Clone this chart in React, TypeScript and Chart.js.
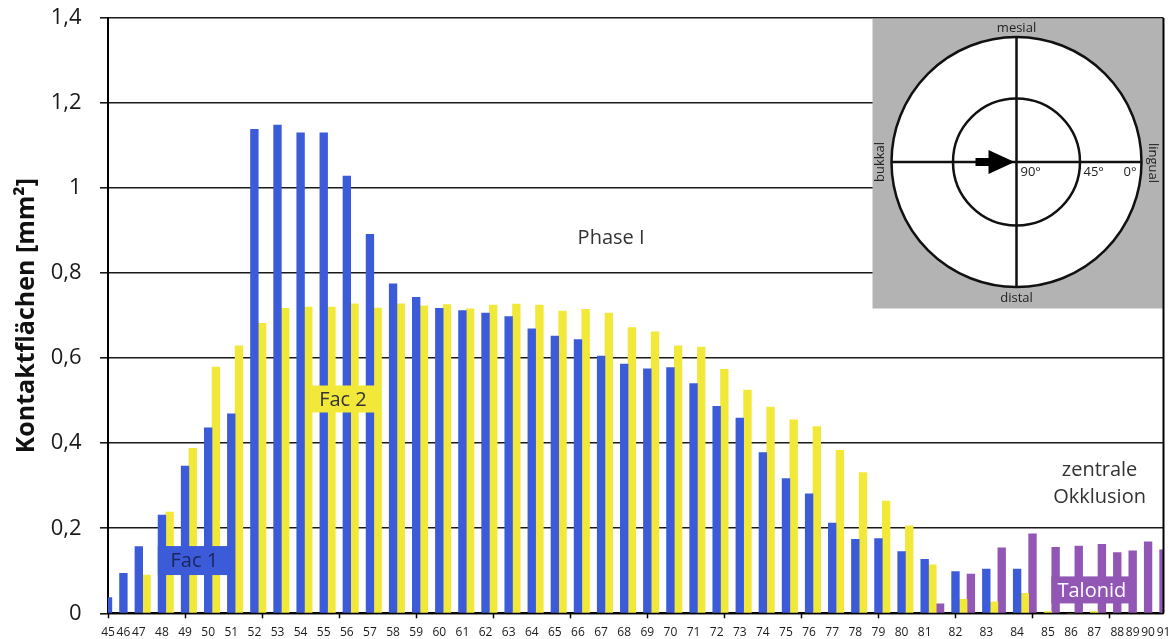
import React, { useEffect, useRef } from 'react';
import { Chart, registerables } from 'chart.js';

Chart.register(...registerables);

// Frame numbers along the x axis
const frames = [
  45, 46, 47, 48, 49, 50, 51, 52, 53, 54, 55, 56, 57, 58, 59, 60, 61, 62, 63, 64, 65, 66, 67, 68,
  69, 70, 71, 72, 73, 74, 75, 76, 77, 78, 79, 80, 81, 82, 83, 84, 85, 86, 87, 88, 89, 90, 91,
];

// Contact areas in mm² per facet (null = facet not in contact)
const fac1: (number | null)[] = [
  0.037, 0.094, 0.157, 0.231, 0.346, 0.436, 0.469, 1.138, 1.148, 1.13, 1.13, 1.028, 0.891, 0.775,
  0.743, 0.717, 0.712, 0.706, 0.698, 0.669, 0.652, 0.644, 0.605, 0.586, 0.575, 0.578, 0.54, 0.487,
  0.459, 0.378, 0.317, 0.281, 0.212, 0.174, 0.176, 0.145, 0.127, 0.098, 0.104, 0.104,
  null, null, null, null, null, null, null,
];

const fac2: (number | null)[] = [
  null, null, 0.09, 0.238, 0.388, 0.579, 0.629, 0.682, 0.717, 0.72, 0.72, 0.728, 0.718, 0.728,
  0.723, 0.726, 0.716, 0.725, 0.727, 0.725, 0.711, 0.715, 0.706, 0.672, 0.662, 0.629, 0.626, 0.574,
  0.525, 0.485, 0.455, 0.439, 0.383, 0.331, 0.264, 0.206, 0.114, 0.033, 0.027, 0.047, 0.004, 0,
  0.004, null, null, null, null,
];

const talonid: (number | null)[] = [
  null, null, null, null, null, null, null, null, null, null, null, null, null, null, null, null,
  null, null, null, null, null, null, null, null, null, null, null, null, null, null, null, null,
  null, null, null, null, 0.022, 0.092, 0.154, 0.187, 0.155, 0.158, 0.162, 0.143, 0.147, 0.168,
  0.149,
];

const yTickValues = [0, 0.2, 0.4, 0.6, 0.8, 1.0, 1.2, 1.4];

const BLUE = '#3b5bd9';
const YELLOW = '#f2e83a';
const PURPLE = '#9256b4';
const FONT = "'Open Sans', 'DejaVu Sans', sans-serif";

// Every bar gets its own slot; frames are separated by one empty slot.
function buildSlots() {
  const labels: string[] = [];
  const s1: (number | null)[] = [];
  const s2: (number | null)[] = [];
  const s3: (number | null)[] = [];
  frames.forEach((f, i) => {
    if (i > 0) {
      labels.push('');
      s1.push(null);
      s2.push(null);
      s3.push(null);
    }
    const vals = [fac1[i], fac2[i], talonid[i]];
    let first = true;
    vals.forEach((v, k) => {
      if (v === null) return;
      labels.push(first ? String(f) : '');
      first = false;
      s1.push(k === 0 ? v : null);
      s2.push(k === 1 ? v : null);
      s3.push(k === 2 ? v : null);
    });
  });
  return { labels, s1, s2, s3 };
}

const fmtTick = (v: number) => String(Math.round(v * 10) / 10).replace('.', ',');

// Labels inside the plot, anchored in slot / value units
const notes = [
  { text: 'Fac 1', slot: 11.2, value: 0.124, bg: BLUE, color: '#1b2560', w: 73, h: 29 },
  { text: 'Fac 2', slot: 30.5, value: 0.504, bg: YELLOW, color: '#333333', w: 70, h: 27 },
  { text: 'Talonid', slot: 127.7, value: 0.055, bg: PURPLE, color: '#ffffff', w: 81, h: 27 },
  { text: 'Phase I', slot: 65.3, value: 0.885, bg: null, color: '#333333', w: 0, h: 0 },
  { text: 'zentrale', slot: 128.7, value: 0.339, bg: null, color: '#333333', w: 0, h: 0 },
  { text: 'Okklusion', slot: 128.7, value: 0.274, bg: null, color: '#333333', w: 0, h: 0 },
];

const notesPlugin = {
  id: 'notes',
  afterDatasetsDraw(chart: any) {
    const { ctx, scales } = chart;
    ctx.save();
    ctx.font = `20px ${FONT}`;
    ctx.textAlign = 'center';
    ctx.textBaseline = 'middle';
    notes.forEach((n) => {
      const x = scales.x.getPixelForValue(n.slot);
      const y = scales.y.getPixelForValue(n.value);
      if (n.bg) {
        ctx.fillStyle = n.bg;
        ctx.fillRect(x - n.w / 2, y - n.h / 2, n.w, n.h);
      }
      ctx.fillStyle = n.color;
      ctx.fillText(n.text, x, y + 1);
    });
    ctx.restore();
  },
  afterDraw(chart: any) {
    const { ctx, chartArea: ca } = chart;
    ctx.save();
    // orientation diagram
    const size = 291;
    const bx = ca.right - size;
    const by = ca.top + 1;
    ctx.fillStyle = '#b3b3b3';
    ctx.fillRect(bx, by, size, size - 1.5);
    const cx = bx + 144;
    const cy = by + 143;
    const R = 125;
    const r = 63.5;
    ctx.fillStyle = '#ffffff';
    ctx.beginPath();
    ctx.arc(cx, cy, R, 0, Math.PI * 2);
    ctx.fill();
    ctx.strokeStyle = '#111';
    ctx.lineWidth = 2.5;
    ctx.stroke();
    ctx.beginPath();
    ctx.arc(cx, cy, r, 0, Math.PI * 2);
    ctx.stroke();
    ctx.beginPath();
    ctx.moveTo(cx, cy - R);
    ctx.lineTo(cx, cy + R);
    ctx.moveTo(cx - R, cy);
    ctx.lineTo(cx + R, cy);
    ctx.stroke();
    // arrow
    ctx.fillStyle = '#000';
    ctx.fillRect(cx - 41, cy - 4, 15, 8);
    ctx.beginPath();
    ctx.moveTo(cx - 28, cy - 12);
    ctx.lineTo(cx - 2, cy);
    ctx.lineTo(cx - 28, cy + 12);
    ctx.closePath();
    ctx.fill();
    // text
    ctx.fillStyle = '#222';
    ctx.font = `13px ${FONT}`;
    ctx.textAlign = 'center';
    ctx.textBaseline = 'middle';
    ctx.fillText('mesial', cx, by + 9);
    ctx.fillText('distal', cx, cy + 136);
    ctx.textAlign = 'left';
    ctx.fillText('90°', cx + 4, cy + 10);
    ctx.fillText('45°', cx + 67, cy + 10);
    ctx.fillText('0°', cx + 107, cy + 10);
    ctx.textAlign = 'center';
    ctx.save();
    ctx.translate(cx - 136, cy);
    ctx.rotate(-Math.PI / 2);
    ctx.fillText('bukkal', 0, 0);
    ctx.restore();
    ctx.save();
    ctx.translate(cx + 136.5, cy + 1);
    ctx.rotate(Math.PI / 2);
    ctx.fillText('lingual', 0, 0);
    ctx.restore();
    // right frame line
    ctx.strokeStyle = '#000';
    ctx.lineWidth = 2;
    ctx.beginPath();
    ctx.moveTo(ca.right, ca.top);
    ctx.lineTo(ca.right, ca.bottom);
    ctx.stroke();
    ctx.restore();
  },
};

export default function App() {
  const canvasRef = useRef<HTMLCanvasElement | null>(null);

  useEffect(() => {
    if (!canvasRef.current) return;
    const { labels, s1, s2, s3 } = buildSlots();
    const common = { barPercentage: 1, categoryPercentage: 1, borderWidth: 0 };
    const chart = new Chart(canvasRef.current, {
      type: 'bar',
      data: {
        labels,
        datasets: [
          { label: 'Fac 1', data: s1, backgroundColor: BLUE, ...common },
          { label: 'Fac 2', data: s2, backgroundColor: YELLOW, ...common },
          { label: 'Talonid', data: s3, backgroundColor: PURPLE, ...common },
        ],
      },
      options: {
        animation: false,
        responsive: false,
        devicePixelRatio: 1,
        layout: { padding: { top: 18, right: 8.5, bottom: 0, left: 0 } },
        plugins: { legend: { display: false }, tooltip: { enabled: false } },
        scales: {
          x: {
            type: 'category',
            stacked: true,
            offset: false,
            grid: {
              offset: false,
              drawOnChartArea: false,
              drawTicks: true,
              tickLength: 5,
              tickWidth: 1.5,
              tickColor: (ctx: any) => (ctx.index % 10 === 0 ? '#000' : 'rgba(0,0,0,0)'),
            },
            border: { color: '#000', width: 2 },
            ticks: {
              autoSkip: false,
              maxRotation: 0,
              minRotation: 0,
              padding: 7,
              color: '#1a1a1a',
              font: { family: FONT, size: 12 },
            },
            afterFit: (s: any) => {
              s.height = 25.7;
              s.paddingLeft = 0;
              s.paddingRight = 0;
              s.paddingTop = 0;
              s.paddingBottom = 0;
            },
          },
          y: {
            stacked: true,
            min: 0,
            max: 1.4,
            afterBuildTicks: (s: any) => {
              s.ticks = yTickValues.map((v) => ({ value: v }));
            },
            ticks: {
              padding: 18.5,
              color: '#1a1a1a',
              font: { family: FONT, size: 22 },
              callback: (v: any) => fmtTick(Number(v)),
            },
            grid: { color: '#1a1a1a', lineWidth: 1.6, tickLength: 8 },
            border: { color: '#000', width: 2 },
            title: {
              display: true,
              text: 'Kontaktflächen [mm²]',
              color: '#111',
              font: { family: FONT, size: 25, weight: 'bold' },
              padding: { top: 12, bottom: 0 },
            },
            afterFit: (s: any) => {
              s.width = 108;
              s.paddingTop = 0;
              s.paddingBottom = 0;
              s.paddingLeft = 0;
              s.paddingRight = 0;
            },
          },
        },
      },
      plugins: [notesPlugin],
    } as any);
    return () => chart.destroy();
  }, []);

  return (
    <div style={{ position: 'absolute', left: 0, top: 0, width: 1172, height: 639, background: '#fff' }}>
      <canvas ref={canvasRef} width={1172} height={639} />
    </div>
  );
}
